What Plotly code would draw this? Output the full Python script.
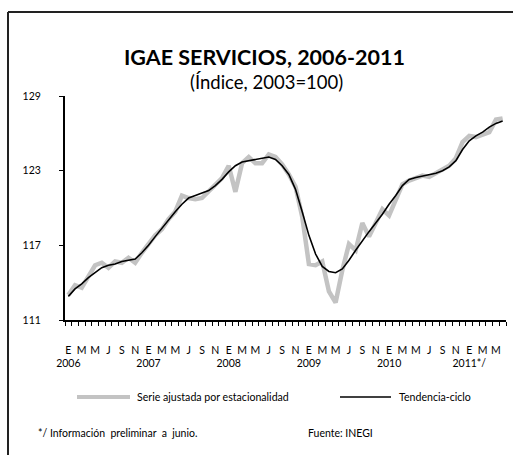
import plotly.graph_objects as go

# Monthly index, January 2006 - June 2011
month_letters = ["E", "F", "M", "A", "M", "J", "J", "A", "S", "O", "N", "D"]
years = ["2006", "2007", "2008", "2009", "2010", "2011*/"]

# Seasonally adjusted series
serie_ajustada = [
    113.0, 113.8, 113.6, 114.5, 115.4, 115.6, 115.2, 115.7, 115.6, 116.0, 115.6, 116.4,
    117.1, 117.8, 118.3, 119.1, 119.7, 121.0, 120.8, 120.7, 120.8, 121.3, 121.8, 122.4,
    123.4, 121.3, 123.6, 124.1, 123.6, 123.6, 124.3, 124.1, 123.5, 122.7, 121.7, 119.3,
    115.5, 115.4, 115.7, 113.3, 112.4, 115.0, 117.1, 116.6, 118.8, 117.7, 118.8, 119.9,
    119.4, 120.6, 121.9, 122.2, 122.4, 122.6, 122.5, 122.8, 123.1, 123.4, 124.0, 125.3,
    125.8, 125.7, 125.9, 126.1, 127.1, 127.2,
]

# Trend-cycle series
tendencia_ciclo = [
    112.9, 113.5, 113.9, 114.4, 114.8, 115.2, 115.4, 115.5, 115.7, 115.8, 115.9, 116.4,
    117.0, 117.7, 118.4, 119.0, 119.7, 120.3, 120.8, 121.0, 121.2, 121.4, 121.8, 122.3,
    122.9, 123.4, 123.7, 123.8, 123.9, 124.0, 124.1, 123.9, 123.4, 122.7, 121.5, 119.7,
    117.8, 116.3, 115.3, 114.9, 114.8, 115.1, 115.8, 116.6, 117.4, 118.1, 118.8, 119.5,
    120.3, 121.0, 121.8, 122.3, 122.45, 122.55, 122.65, 122.8, 123.0, 123.3, 123.8, 124.7,
    125.4, 125.8, 126.1, 126.5, 126.8, 127.0,
]

y_ticks = [111, 117, 123, 129]

n = len(serie_ajustada)
x = list(range(n))

# Labels every other month, year under January
tick_vals = list(range(0, n, 2))
tick_text = []
for i in tick_vals:
    letter = month_letters[i % 12]
    if i % 12 == 0:
        tick_text.append(letter + "<br>" + years[i // 12])
    else:
        tick_text.append(letter)

FONT = "Lato"

fig = go.Figure()
fig.add_trace(go.Scatter(
    x=x, y=serie_ajustada, mode="lines",
    line=dict(color="#c3c3c3", width=4.5),
    name="Serie ajustada por estacionalidad", showlegend=False,
))
fig.add_trace(go.Scatter(
    x=x, y=tendencia_ciclo, mode="lines",
    line=dict(color="#000000", width=1.6),
    name="Tendencia-ciclo", showlegend=False,
))

W, H = 513, 455
L, R, T, B = 65, 7, 96, 135
pw, ph = W - L - R, H - T - B


def px(xp):
    return (xp - L) / pw


def py(yp):
    return (H - B - yp) / ph


shapes = [
    # outer frame (left and top edges)
    dict(type="line", xref="paper", yref="paper", x0=px(8), x1=px(8), y0=py(12), y1=py(460),
         line=dict(color="#222222", width=2)),
    dict(type="line", xref="paper", yref="paper", x0=px(8), x1=px(520), y0=py(12), y1=py(12),
         line=dict(color="#222222", width=2)),
    # legend samples
    dict(type="line", xref="paper", yref="paper", x0=px(77), x1=px(130), y0=py(397), y1=py(397),
         line=dict(color="#c3c3c3", width=4)),
    dict(type="line", xref="paper", yref="paper", x0=px(340), x1=px(391), y0=py(397), y1=py(397),
         line=dict(color="#000000", width=1.3)),
]

annotations = [
    dict(text="<b>IGAE SERVICIOS, 2006-2011</b>", xref="paper", yref="paper",
         x=px(264), y=py(57), showarrow=False, xanchor="center", yanchor="middle",
         font=dict(family=FONT, size=21.5, color="black")),
    dict(text="(Índice, 2003=100)", xref="paper", yref="paper",
         x=px(266), y=py(82), showarrow=False, xanchor="center", yanchor="middle",
         font=dict(family=FONT, size=18.5, color="black")),
    dict(text="Serie ajustada por estacionalidad", xref="paper", yref="paper",
         x=px(135), y=py(397), showarrow=False, xanchor="left", yanchor="middle",
         font=dict(family=FONT, size=10.6, color="black")),
    dict(text="Tendencia-ciclo", xref="paper", yref="paper",
         x=px(397), y=py(397), showarrow=False, xanchor="left", yanchor="middle",
         font=dict(family=FONT, size=10.6, color="black")),
    dict(text="*/ Información  preliminar  a  junio.", xref="paper", yref="paper",
         x=px(36), y=py(433), showarrow=False, xanchor="left", yanchor="middle",
         font=dict(family=FONT, size=10.5, color="black")),
    dict(text="Fuente: INEGI", xref="paper", yref="paper",
         x=px(306), y=py(433), showarrow=False, xanchor="left", yanchor="middle",
         font=dict(family=FONT, size=10.5, color="black")),
]

fig.update_layout(
    width=W, height=H,
    margin=dict(l=L, r=R, t=T, b=B, pad=0),
    paper_bgcolor="white", plot_bgcolor="white",
    font=dict(family=FONT, size=10.5, color="black"),
    shapes=shapes, annotations=annotations,
    xaxis=dict(
        range=[-0.5, n - 0.5], showgrid=False, zeroline=False,
        showline=True, linecolor="black", linewidth=2,
        tickmode="array", tickvals=tick_vals, ticktext=tick_text,
        tickangle=0,
        ticks="", ticklabelstandoff=19,
        tickfont=dict(family=FONT, size=10.5, color="black"),
        minor=dict(tickmode="array", tickvals=[i - 0.5 for i in range(n + 1)],
                   ticks="outside", ticklen=4, tickwidth=1.3, tickcolor="black", showgrid=False),
    ),
    yaxis=dict(
        range=[111, 129], showgrid=False, zeroline=False,
        showline=True, linecolor="black", linewidth=2,
        tickmode="array", tickvals=y_ticks,
        ticks="outside", ticklen=4, tickwidth=1.3, tickcolor="black",
        ticklabelstandoff=16,
        tickfont=dict(family=FONT, size=10.5, color="black"),
    ),
)

fig.write_html("out.html")
